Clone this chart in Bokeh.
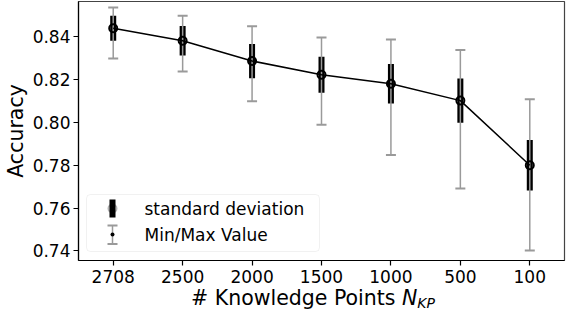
from bokeh.plotting import figure
from bokeh.models import FactorRange, Range1d, FixedTicker, BoxAnnotation, Label, ColumnDataSource, NumeralTickFormatter, Div
from bokeh.layouts import column
from bokeh.embed import file_html
from bokeh.resources import INLINE

# ---- data ----
categories = ["2708", "2500", "2000", "1500", "1000", "500", "100"]
acc_mean = [0.8440, 0.8382, 0.8287, 0.8223, 0.8181, 0.8102, 0.7800]
acc_std = [0.0058, 0.0069, 0.0080, 0.0084, 0.0092, 0.0103, 0.0118]
acc_max = [0.8537, 0.8498, 0.8449, 0.8397, 0.8388, 0.8338, 0.8108]
acc_min = [0.8299, 0.8238, 0.8099, 0.7989, 0.7848, 0.7691, 0.7402]
y_ticks = [0.74, 0.76, 0.78, 0.80, 0.82, 0.84]

FONT = "DejaVu Sans"
GREY = "#9a9a9a"

src = ColumnDataSource(dict(
    x=categories,
    mean=acc_mean,
    lo=[m - s for m, s in zip(acc_mean, acc_std)],
    hi=[m + s for m, s in zip(acc_mean, acc_std)],
    mn=acc_min,
    mx=acc_max,
))

FW, FH = 486, 259
LEFT = 70
p = figure(x_range=FactorRange(factors=categories), y_range=Range1d(0.7355, 0.8565),
           frame_width=FW, frame_height=FH,
           min_border_top=1, min_border_right=2, min_border_bottom=28, min_border_left=LEFT,
           output_backend="svg", toolbar_location=None, margin=(0, 0, 0, 0))

p.xgrid.visible = False
p.ygrid.visible = False
p.outline_line_color = "#444444"
p.outline_line_width = 1.2
p.background_fill_color = "white"
p.border_fill_color = "white"

# std bars
p.segment(x0="x", y0="lo", x1="x", y1="hi", source=src, line_color="black", line_width=6, line_cap="butt")
# min / max lines
p.segment(x0="x", y0="mn", x1="x", y1="mx", source=src, line_color=GREY, line_width=1.5)
p.scatter(x="x", y="mn", source=src, marker="dash", size=10, line_color=GREY, line_width=2)
p.scatter(x="x", y="mx", source=src, marker="dash", size=10, line_color=GREY, line_width=2)
# mean line + markers
p.line(x="x", y="mean", source=src, line_color="black", line_width=1.5)
p.scatter(x="x", y="mean", source=src, marker="circle", size=8, fill_color=None,
          line_color="black", line_width=2)

# axes
for ax in (p.xaxis[0], p.yaxis[0]):
    ax.axis_line_color = "black"
    ax.axis_line_width = 1.2
    ax.major_tick_line_color = "black"
    ax.major_tick_line_width = 1.2
    ax.major_tick_out = 5
    ax.major_tick_in = 0
    ax.minor_tick_line_color = None
    ax.major_label_text_font = FONT
    ax.major_label_text_font_size = "17px"
    ax.major_label_text_color = "black"
    ax.axis_label_text_font = FONT
    ax.axis_label_text_font_size = "20.5px"
    ax.axis_label_text_font_style = "normal"
    ax.axis_label_text_color = "black"

p.yaxis.ticker = FixedTicker(ticks=y_ticks)
p.yaxis.formatter = NumeralTickFormatter(format="0.00")
p.yaxis.axis_label = "Accuracy"
p.yaxis.major_label_standoff = 3
p.yaxis.axis_label_standoff = 2
p.xaxis.major_label_standoff = 4

# ---- manual legend (frame-relative screen units) ----
def box(l, r, b, t, **kw):
    return BoxAnnotation(left=l, right=r, bottom=b, top=t,
                         left_units="screen", right_units="screen",
                         bottom_units="screen", top_units="screen", **kw)

p.add_layout(box(8, 241, 9, 66, fill_color="white", fill_alpha=0.85,
                 line_color="#d0d0d0", line_width=1, border_radius=4))
sx = 34
# standard deviation symbol
p.add_layout(box(sx - 3, sx + 3, 43, 61, fill_color="black", fill_alpha=1, line_color=None))
p.add_layout(box(sx - 4, sx + 4, 48, 56, fill_color=None, fill_alpha=0, line_color="black",
                 line_width=2, border_radius=4))
# min/max symbol
p.add_layout(box(sx - 0.75, sx + 0.75, 16.5, 35, fill_color=GREY, fill_alpha=1, line_color=None))
p.add_layout(box(sx - 5, sx + 5, 34, 36, fill_color=GREY, fill_alpha=1, line_color=None))
p.add_layout(box(sx - 5, sx + 5, 15.5, 17.5, fill_color=GREY, fill_alpha=1, line_color=None))
p.add_layout(box(sx - 2, sx + 2, 24, 28, fill_color="black", fill_alpha=1, line_color=None,
                 border_radius=2))
p.add_layout(Label(x=66, y=52, x_units="screen", y_units="screen", text="standard deviation",
                   text_font=FONT, text_font_size="17px", text_color="black",
                   text_baseline="middle", text_align="left"))
p.add_layout(Label(x=66, y=25.5, x_units="screen", y_units="screen", text="Min/Max Value",
                   text_font=FONT, text_font_size="17px", text_color="black",
                   text_baseline="middle", text_align="left"))

# x-axis label with italic subscript, as real HTML text under the plot
xlabel = Div(
    text=('<div style="font-family:\'DejaVu Sans\'; font-size:20.5px; color:black; '
          f'text-align:center; width:{FW}px; margin-left:{LEFT}px; line-height:1; white-space:nowrap">'
          '# Knowledge Points <i>N</i><span style="font-style:italic; font-size:14px; '
          'position:relative; top:3px">KP</span></div>'),
    width=FW + LEFT + 2, height=18, margin=(0, 0, 0, 0))

layout = column(p, xlabel, spacing=0, margin=(0, 0, 0, 0))
open("out.html", "w").write(file_html(layout, INLINE))
